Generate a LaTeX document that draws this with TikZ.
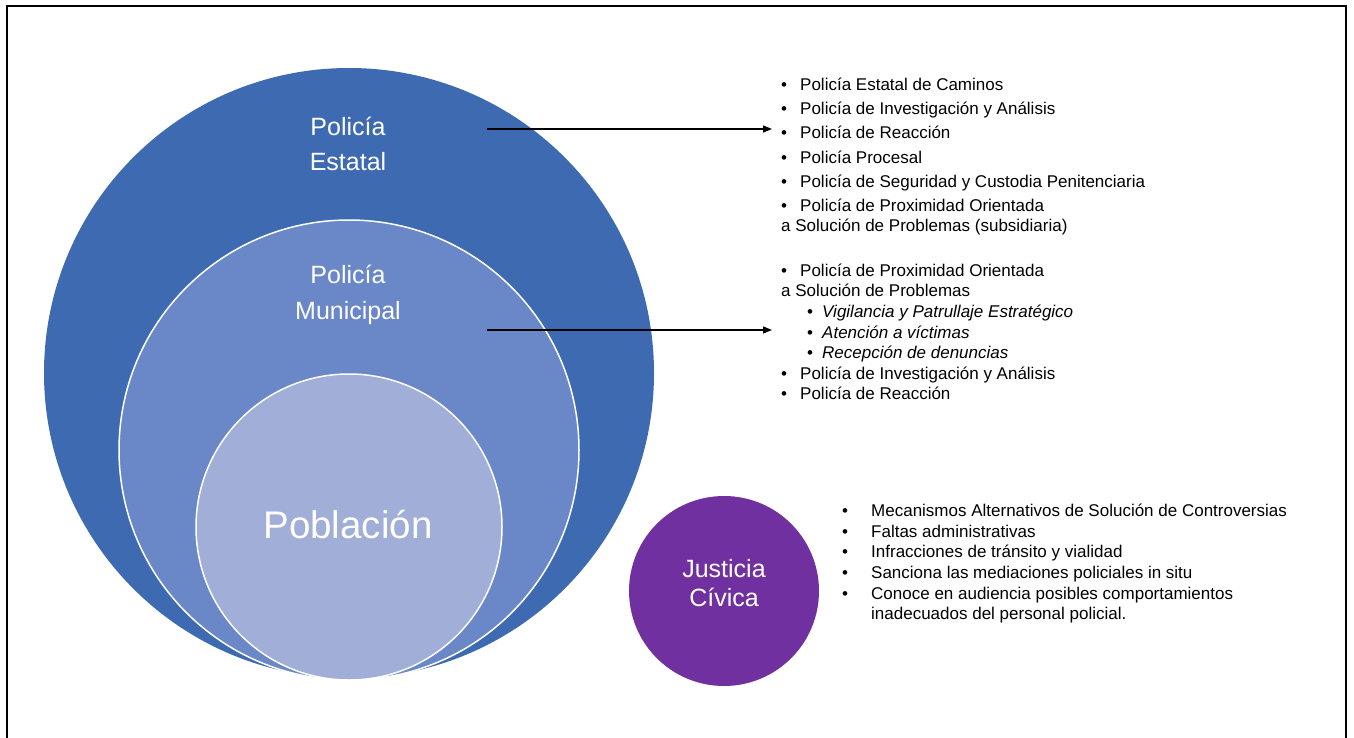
\documentclass[tikz,border=0pt]{standalone}
\usepackage{fontspec}
\setmainfont{Liberation Sans}
\usetikzlibrary{arrows.meta}

\definecolor{estblue}{RGB}{61,106,176}
\definecolor{munblue}{RGB}{106,135,199}
\definecolor{pobblue}{RGB}{160,174,216}
\definecolor{civpurple}{RGB}{112,48,160}

\newcommand{\lbul}{\makebox[19pt][l]{\textbullet}}
\newcommand{\sbul}{\hspace*{26pt}\makebox[15pt][l]{\textbullet}}
\newcommand{\cbul}{\makebox[29pt][l]{\textbullet}}

\begin{document}
\begin{tikzpicture}[x=1pt, y=-1pt]
      \tikzstyle{ring} = [circle, inner sep=0pt, line width=1.5pt]
      \tikzstyle{ringlabel} = [text=white, align=center, inner sep=0pt]
      \tikzstyle{blist} = [anchor=north west, inner sep=0pt, align=left, font=\fontsize{17}{20.6}\selectfont]
      \tikzstyle{arr} = [-{Triangle[length=9pt,width=7pt]}, line width=1.3pt]

      \useasboundingbox (0,0) rectangle (1354,738);
      \draw[line width=2pt] (7,738) -- (7,6) -- (1346,6) -- (1346,738);

      \node[ring, fill=estblue, minimum size=610pt] (est) at (349,373) {};
      \node[ring, fill=munblue, draw=white, minimum size=460pt] (mun) at (349,450) {};
      \node[ring, fill=pobblue, draw=white, minimum size=306pt] (pob) at (349,527) {};
      \node[ring, fill=civpurple, minimum size=190pt] (civ) at (724,591) {};

      \node[ringlabel, font=\fontsize{25}{35}\selectfont] (estT) at (348,143.5) {Policía\\Estatal};
      \node[ringlabel, font=\fontsize{25}{36}\selectfont] (munT) at (348,295) {Policía\\Municipal};
      \node[ringlabel, font=\fontsize{38.5}{46}\selectfont] (pobT) at (348,525) {Población};
      \node[ringlabel, font=\fontsize{25}{29}\selectfont] (civT) at (724,583) {Justicia\\Cívica};

      \node[blist] (estL) at (781,78) {\lbul Policía Estatal de Caminos\\[3.5pt]
        \lbul Policía de Investigación y Análisis\\[3.5pt]
        \lbul Policía de Reacción\\[3.5pt]
        \lbul Policía Procesal\\[3.5pt]
        \lbul Policía de Seguridad y Custodia Penitenciaria\\[3.5pt]
        \lbul Policía de Proximidad Orientada\\
        a Solución de Problemas (subsidiaria)};

      \node[blist] (munL) at (781,263.5) {\lbul Policía de Proximidad Orientada\\
        a Solución de Problemas\\
        \sbul\textit{Vigilancia y Patrullaje Estratégico}\\
        \sbul\textit{Atención a víctimas}\\
        \sbul\textit{Recepción de denuncias}\\
        \lbul Policía de Investigación y Análisis\\
        \lbul Policía de Reacción};

      \node[blist] (civL) at (842,504) {\cbul Mecanismos Alternativos de Solución de Controversias\\
        \cbul Faltas administrativas\\
        \cbul Infracciones de tránsito y vialidad\\
        \cbul Sanciona las mediaciones policiales in situ\\
        \cbul Conoce en audiencia posibles comportamientos\\
        \hspace*{29pt}inadecuados del personal policial.};

      \coordinate (estA) at (487,129);
      \coordinate (estB) at (772,129);
      \coordinate (munA) at (487,330);
      \coordinate (munB) at (772,330);
      \draw[arr] (estA) -- (estB);
      \draw[arr] (munA) -- (munB);
\end{tikzpicture}
\end{document}
